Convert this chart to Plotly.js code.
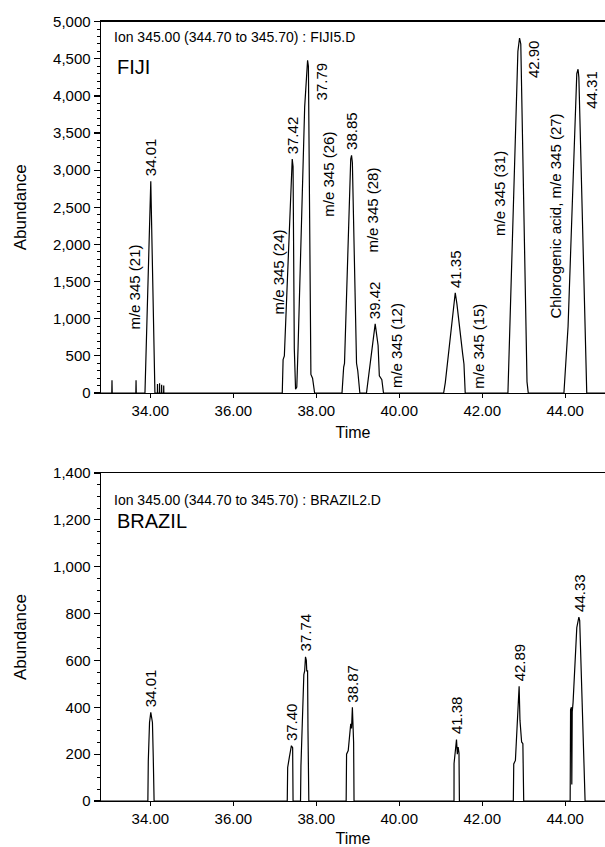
<!DOCTYPE html>
<html><head><meta charset="utf-8">
<script src="https://cdn.plot.ly/plotly-3.0.1.min.js"></script>
<style>html,body{margin:0;padding:0;background:#fff}#chart{width:605px;height:847px}</style>
</head><body><div id="chart"></div>
<script>
// ---------- FIJI chromatogram (Ion 345) ----------
const fijiTime = [32.81, 33.07, 33.075, 33.08, 33.65, 33.655, 33.66,
  33.87, 34.01, 34.11,
  34.17, 34.172, 34.175, 34.22, 34.222, 34.225, 34.27, 34.272, 34.275, 34.32, 34.322, 34.325,
  37.18, 37.20, 37.23, 37.40, 37.42, 37.44, 37.47, 37.50, 37.53, 37.56, 37.72, 37.79, 37.81, 37.87, 37.91, 37.96,
  38.62, 38.66, 38.68, 38.83, 38.85, 38.87, 38.97, 39.00, 39.05,
  39.21, 39.40, 39.42, 39.49, 39.52, 39.58, 39.62,
  41.07, 41.11, 41.35, 41.39, 41.53, 41.56, 41.59,
  42.62, 42.86, 42.90, 42.93, 43.08, 43.11,
  43.97, 44.07, 44.28, 44.31, 44.33, 44.52, 44.96];
const fijiAbundance = [0, 0, 170, 0, 0, 170, 0,
  0, 2850, 0,
  0, 120, 0, 0, 130, 0, 0, 110, 0, 0, 100, 0,
  0, 450, 500, 3050, 3150, 3050, 600, 50, 80, 600, 3850, 4480, 4400, 250, 200, 0,
  0, 350, 400, 3150, 3200, 3100, 400, 300, 0,
  0, 900, 930, 640, 230, 180, 0,
  0, 140, 1350, 1200, 520, 390, 0,
  0, 4600, 4780, 4700, 150, 0,
  0, 900, 4300, 4360, 4250, 0, 0];
const fijiPeakTimes   = [34.01, 37.42, 37.79, 38.85, 39.42, 41.35, 42.90, 44.31];
const fijiPeakHeights = [2850, 3150, 4480, 3200, 930, 1350, 4780, 4360];
const fijiPeakSide    = ['top', 'top', 'right', 'top', 'top', 'top', 'right', 'right'];
const fijiCompounds = ['m/e 345 (21)', 'm/e 345 (24)', 'm/e 345 (26)', 'm/e 345 (28)',
  'm/e 345 (12)', 'm/e 345 (15)', 'm/e 345 (31)', 'Chlorogenic acid, m/e 345 (27)'];
const fijiCompoundTimes = [33.63, 37.09, 38.30, 39.35, 39.95, 41.91, 42.42, 43.77];
const fijiCompoundAbund = [1420, 1630, 2950, 2460, 634, 630, 2690, 2385];

// ---------- BRAZIL chromatogram (Ion 345) ----------
const brazilTime = [32.81, 33.94, 33.95, 33.98, 34.01, 34.03, 34.05, 34.07, 34.09,
  37.30, 37.31, 37.35, 37.39, 37.40, 37.43, 37.44,
  37.62, 37.63, 37.70, 37.72, 37.74, 37.76, 37.77, 37.79, 37.80, 37.82,
  38.72, 38.73, 38.77, 38.81, 38.83, 38.85, 38.87, 38.88, 38.90, 38.91,
  41.32, 41.321, 41.34, 41.38, 41.40, 41.42, 41.44, 41.45,
  42.75, 42.76, 42.80, 42.83, 42.86, 42.89, 42.91, 42.95, 42.98, 43.00,
  44.12, 44.13, 44.15, 44.16, 44.17, 44.19, 44.28, 44.30, 44.33, 44.35, 44.38, 44.44, 44.48, 44.96];
const brazilAbundance = [0, 0, 170, 335, 378, 343, 335, 185, 0,
  0, 143, 186, 228, 236, 228, 0,
  0, 150, 540, 555, 615, 600, 555, 555, 300, 0,
  0, 200, 215, 300, 330, 310, 400, 350, 250, 0,
  0, 160, 190, 262, 200, 230, 205, 0,
  0, 158, 173, 300, 382, 490, 345, 252, 245, 0,
  0, 390, 400, 70, 380, 420, 740, 760, 785, 770, 600, 280, 0, 0];
const brazilPeakTimes   = [34.01, 37.40, 37.74, 38.87, 41.38, 42.89, 44.33];
const brazilPeakHeights = [378, 236, 615, 400, 262, 490, 785];

const xTickVals = [34, 36, 38, 40, 42, 44];
const xTickText = ['34.00', '36.00', '38.00', '40.00', '42.00', '44.00'];

// ---------- styling ----------
const tickFont = {family: 'Liberation Sans, Arial, sans-serif', size: 15, color: '#000'};
const labelFont = {family: 'Liberation Sans Narrow, Arial Narrow, Liberation Sans, Arial, sans-serif', size: 15, color: '#000'};

function peakAnn(t, a, side, xa, ya) {
  const base = {x: t, y: a, xref: xa, yref: ya, text: t.toFixed(2), textangle: -90,
    showarrow: false, font: labelFont};
  if (side === 'right') return Object.assign(base, {xanchor: 'left', yanchor: 'top', xshift: 3});
  return Object.assign(base, {xanchor: 'center', yanchor: 'bottom', yshift: 3});
}

const annotations = [];
fijiPeakTimes.forEach((t, i) => annotations.push(peakAnn(t, fijiPeakHeights[i], fijiPeakSide[i], 'x', 'y')));
brazilPeakTimes.forEach((t, i) => annotations.push(peakAnn(t, brazilPeakHeights[i], 'top', 'x2', 'y2')));
fijiCompounds.forEach((c, i) => annotations.push({x: fijiCompoundTimes[i], y: fijiCompoundAbund[i],
  xref: 'x', yref: 'y', text: c, textangle: -90, showarrow: false, font: labelFont,
  xanchor: 'center', yanchor: 'middle'}));
annotations.push({xref: 'x domain', yref: 'y domain', x: 0.022, y: 0.959, xanchor: 'left', yanchor: 'middle',
  text: 'Ion 345.00 (344.70 to 345.70) : FIJI5.D', showarrow: false, font: {family: tickFont.family, size: 14, color: '#000'}});
annotations.push({xref: 'x domain', yref: 'y domain', x: 0.028, y: 0.878, xanchor: 'left', yanchor: 'middle',
  text: 'FIJI', showarrow: false, font: {family: tickFont.family, size: 20, color: '#000'}});
annotations.push({xref: 'x2 domain', yref: 'y2 domain', x: 0.022, y: 0.918, xanchor: 'left', yanchor: 'middle',
  text: 'Ion 345.00 (344.70 to 345.70) : BRAZIL2.D', showarrow: false, font: {family: tickFont.family, size: 14, color: '#000'}});
annotations.push({xref: 'x2 domain', yref: 'y2 domain', x: 0.028, y: 0.855, xanchor: 'left', yanchor: 'middle',
  text: 'BRAZIL', showarrow: false, font: {family: tickFont.family, size: 20, color: '#000'}});

const lineStyle = {color: '#000', width: 1.2};
const traces = [
  {x: fijiTime, y: fijiAbundance, type: 'scatter', mode: 'lines', line: lineStyle, xaxis: 'x', yaxis: 'y', hoverinfo: 'x+y'},
  {x: brazilTime, y: brazilAbundance, type: 'scatter', mode: 'lines', line: lineStyle, xaxis: 'x2', yaxis: 'y2', hoverinfo: 'x+y'}
];

function xAxis(anchor) {
  return {domain: [101/605, 1], range: [32.81, 44.96], anchor: anchor,
    tickvals: xTickVals, ticktext: xTickText, ticks: 'outside', ticklen: 4, tickwidth: 1.2, tickcolor: '#000',
    showline: true, mirror: true, linecolor: '#000', linewidth: 1.4, zeroline: false, showgrid: false,
    tickfont: tickFont, title: {text: 'Time', font: {family: tickFont.family, size: 16, color: '#000'}, standoff: 8}};
}
function yAxis(anchor, domain, max, dtick, minor) {
  return {domain: domain, range: [0, max], anchor: anchor, dtick: dtick, tickformat: ',d',
    ticks: 'outside', ticklen: 6, tickwidth: 1.2, tickcolor: '#000',
    minor: {dtick: minor, ticks: 'outside', ticklen: 3, tickcolor: '#000', tickwidth: 1},
    showline: true, linecolor: '#000', linewidth: 1.4, zeroline: false, showgrid: false,
    tickfont: tickFont, title: {text: 'Abundance', font: {family: tickFont.family, size: 17, color: '#000'}, standoff: 22}};
}

const layout = {
  width: 605, height: 847, margin: {l: 0, r: 0, t: 0, b: 0},
  paper_bgcolor: '#fff', plot_bgcolor: '#fff', showlegend: false,
  xaxis: xAxis('y'),
  yaxis: yAxis('x', [1 - 393/847, 1 - 21.7/847], 5000, 500, 100),
  xaxis2: xAxis('y2'),
  yaxis2: yAxis('x2', [1 - 801/847, 1 - 473/847], 1400, 200, 50),
  annotations: annotations
};

Plotly.newPlot('chart', traces, layout, {displayModeBar: false, staticPlot: true});
</script></body></html>
